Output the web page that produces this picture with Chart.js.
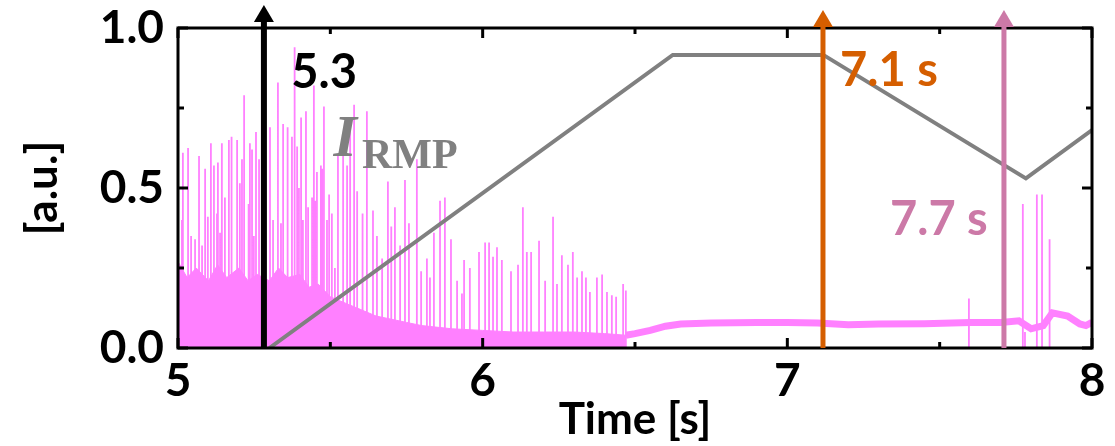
<!DOCTYPE html>
<html lang="en">
<head>
    <meta charset="UTF-8">
    <title>ELM signal and I_RMP</title>
    <script src="https://cdn.jsdelivr.net/npm/chart.js"></script>
    <style>
        body { margin: 0; background: #fff; }
        canvas { display: block; }
    </style>
</head>
<body>
    <canvas id="chart" width="1115" height="446"></canvas>

    <script>
        // Axis ticks
        const xTicks = [5, 6, 7, 8];
        const yTicks = [0, 0.5, 1.0];

        // I_RMP waveform (gray)
        const rmpTime = [5.30, 6.624, 7.118, 7.783, 8.0];
        const rmpValue = [0, 0.916, 0.916, 0.53, 0.681];

        // ELM spikes (time [s], peak [a.u.])
        const spikeTime = [
            5.013, 5.016, 5.033, 5.043, 5.056, 5.069, 5.079, 5.089, 5.098, 5.108,
            5.118, 5.128, 5.131, 5.138, 5.144, 5.154, 5.167, 5.174, 5.177, 5.194,
            5.203, 5.210, 5.217, 5.230, 5.233, 5.236, 5.243, 5.249, 5.256, 5.266,
            5.302, 5.312, 5.328, 5.338, 5.345, 5.358, 5.361, 5.374, 5.381, 5.384,
            5.391, 5.397, 5.404, 5.410, 5.420, 5.427, 5.440, 5.446, 5.450, 5.456,
            5.469, 5.473, 5.479, 5.489, 5.496, 5.505, 5.515, 5.525, 5.542, 5.555,
            5.565, 5.578, 5.588, 5.604, 5.607, 5.620, 5.640, 5.653, 5.670, 5.689,
            5.700, 5.712, 5.729, 5.745, 5.758, 5.784, 5.798, 5.817, 5.827, 5.840,
            5.860, 5.876, 5.896, 5.916, 5.932, 5.939, 5.958, 5.988, 6.008, 6.021,
            6.034, 6.047, 6.063, 6.093, 6.116, 6.132, 6.145, 6.159, 6.185, 6.205,
            6.231, 6.244, 6.260, 6.280, 6.296, 6.310, 6.326, 6.339, 6.352, 6.375,
            6.392, 6.408, 6.424, 6.438, 6.461, 6.470,
            7.596, 7.773, 7.780, 7.819, 7.836, 7.859, 7.862
        ];
        const spikePeak = [
            0.40, 0.61, 0.625, 0.35, 0.34, 0.60, 0.32, 0.56, 0.41, 0.64,
            0.57, 0.42, 0.58, 0.36, 0.64, 0.47, 0.65, 0.66, 0.49, 0.65,
            0.515, 0.59, 0.79, 0.45, 0.40, 0.64, 0.62, 0.35, 0.675, 0.59,
            0.69, 0.40, 0.83, 0.39, 0.70, 0.56, 0.69, 0.66, 0.94, 0.42,
            0.63, 0.50, 0.72, 0.40, 0.74, 0.44, 0.47, 0.82, 0.46, 0.55,
            0.57, 0.56, 0.755, 0.40, 0.48, 0.42, 0.25, 0.60, 0.67, 0.57,
            0.68, 0.76, 0.49, 0.42, 0.38, 0.74, 0.43, 0.35, 0.28, 0.52,
            0.38, 0.44, 0.32, 0.525, 0.39, 0.59, 0.24, 0.28, 0.22, 0.36,
            0.46, 0.47, 0.34, 0.21, 0.17, 0.275, 0.25, 0.30, 0.33, 0.33,
            0.285, 0.315, 0.275, 0.24, 0.26, 0.44, 0.30, 0.30, 0.335, 0.21,
            0.41, 0.20, 0.29, 0.26, 0.30, 0.22, 0.24, 0.22, 0.175, 0.22,
            0.23, 0.175, 0.165, 0.16, 0.20, 0.18,
            0.155, 0.45, 0.05, 0.48, 0.48, 0.34, 0.24
        ];

        // Dense inter-ELM floor (5.0 - 6.47 s)
        const floorTime = [5.00, 5.03, 5.06, 5.10, 5.13, 5.16, 5.20, 5.23, 5.26, 5.30,
                           5.33, 5.36, 5.40, 5.43, 5.46, 5.50, 5.55, 5.60, 5.65, 5.70,
                           5.75, 5.80, 5.90, 6.00, 6.10, 6.20, 6.30, 6.40, 6.47];
        const floorValue = [0.27, 0.22, 0.25, 0.21, 0.26, 0.22, 0.25, 0.21, 0.23, 0.21,
                            0.25, 0.22, 0.23, 0.19, 0.20, 0.16, 0.14, 0.12, 0.10, 0.09,
                            0.08, 0.07, 0.06, 0.055, 0.05, 0.05, 0.05, 0.045, 0.04];

        // ELM-free phase level (6.47 - 8.0 s)
        const bandTime = [6.47, 6.50, 6.55, 6.60, 6.65, 6.75, 6.90, 7.00, 7.10, 7.20,
                          7.30, 7.45, 7.60, 7.70, 7.76, 7.80, 7.84, 7.87, 7.92, 7.96,
                          7.98, 8.00];
        const bandValue = [0.04, 0.045, 0.055, 0.068, 0.075, 0.078, 0.08, 0.08, 0.078, 0.073,
                           0.075, 0.076, 0.08, 0.08, 0.085, 0.06, 0.07, 0.11, 0.10, 0.075,
                           0.07, 0.08];

        // Marked times
        const markTime = [5.282, 7.117, 7.711];
        const markColor = ["#000000", "#d55e00", "#cc79a7"];

        const PINK = "#ff80ff";
        const FONT = "Lato, 'Open Sans', sans-serif";

        const rmpData = rmpTime.map((t, i) => ({ x: t, y: rmpValue[i] }));
        const floorData = floorTime.map((t, i) => ({ x: t, y: floorValue[i] }));
        const bandData = bandTime.map((t, i) => ({ x: t, y: bandValue[i] }));
        const spikeData = [];
        spikeTime.forEach((t, i) => {
            spikeData.push({ x: t, y: 0 }, { x: t, y: spikePeak[i] }, { x: t, y: 0 });
        });

        // box with inward ticks on all sides
        const framePlugin = {
            id: "frame",
            afterDatasetsDraw(chart) {
                const { ctx, chartArea: a, scales } = chart;
                const xs = scales.x, ys = scales.y;
                ctx.save();
                ctx.strokeStyle = "#000";
                ctx.lineWidth = 3;
                ctx.strokeRect(a.left, a.top, a.right - a.left, a.bottom - a.top);

                const xMajor = xTicks, xMinor = xTicks.slice(1).map((v, i) => (v + xTicks[i]) / 2);
                const yMajor = yTicks, yMinor = yTicks.slice(1).map((v, i) => (v + yTicks[i]) / 2);
                const tick = (x1, y1, x2, y2) => { ctx.beginPath(); ctx.moveTo(x1, y1); ctx.lineTo(x2, y2); ctx.stroke(); };
                xMajor.forEach(v => { const p = xs.getPixelForValue(v); tick(p, a.bottom, p, a.bottom - 10); tick(p, a.top, p, a.top + 10); });
                xMinor.forEach(v => { const p = xs.getPixelForValue(v); tick(p, a.bottom, p, a.bottom - 6); tick(p, a.top, p, a.top + 6); });
                yMajor.forEach(v => { const p = ys.getPixelForValue(v); tick(a.left, p, a.left + 10, p); tick(a.right, p, a.right - 10, p); });
                yMinor.forEach(v => { const p = ys.getPixelForValue(v); tick(a.left, p, a.left + 6, p); tick(a.right, p, a.right - 6, p); });
                ctx.restore();
            }
        };

        // vertical arrows and labels
        const markPlugin = {
            id: "marks",
            afterDatasetsDraw(chart) {
                const { ctx, chartArea: a, scales } = chart;
                const xs = scales.x, ys = scales.y;
                ctx.save();
                markTime.forEach((t, i) => {
                    const px = xs.getPixelForValue(t);
                    const tip = i === 0 ? 5 : 10;
                    ctx.strokeStyle = markColor[i];
                    ctx.fillStyle = markColor[i];
                    ctx.lineWidth = i === 0 ? 6 : 5;
                    ctx.beginPath();
                    ctx.moveTo(px, a.bottom);
                    ctx.lineTo(px, tip + 14);
                    ctx.stroke();
                    ctx.beginPath();
                    ctx.moveTo(px, tip);
                    ctx.lineTo(px - 10, tip + 17);
                    ctx.lineTo(px + 10, tip + 17);
                    ctx.closePath();
                    ctx.fill();
                });

                ctx.textBaseline = "alphabetic";
                ctx.textAlign = "left";
                ctx.font = "bold 47px " + FONT;
                ctx.fillStyle = "#000";
                ctx.fillText("5.3", xs.getPixelForValue(5.372), ys.getPixelForValue(0.812));
                ctx.fillStyle = markColor[1];
                ctx.fillText("7.1 s", xs.getPixelForValue(7.173), ys.getPixelForValue(0.82));
                ctx.fillStyle = markColor[2];
                ctx.fillText("7.7 s", xs.getPixelForValue(7.337), ys.getPixelForValue(0.353));

                ctx.fillStyle = "#808080";
                ctx.font = "italic bold 60px 'Liberation Serif', serif";
                ctx.fillText("I", xs.getPixelForValue(5.51), ys.getPixelForValue(0.6));
                ctx.font = "bold 42px 'Liberation Serif', serif";
                ctx.fillText("RMP", xs.getPixelForValue(5.604), ys.getPixelForValue(0.5625));
                ctx.restore();
            }
        };

        new Chart(document.getElementById("chart"), {
            type: "line",
            data: {
                datasets: [
                    { label: "I_RMP", data: rmpData, borderColor: "#808080", borderWidth: 4, pointRadius: 0, tension: 0 },
                    { label: "level", data: bandData, borderColor: PINK, borderWidth: 7, pointRadius: 0, tension: 0 },
                    { label: "ELM", data: spikeData, borderColor: PINK, borderWidth: 1.8, pointRadius: 0, tension: 0 },
                    { label: "floor", data: floorData, borderColor: PINK, backgroundColor: PINK, borderWidth: 1, pointRadius: 0, tension: 0, fill: "origin" }
                ]
            },
            options: {
                responsive: false,
                animation: false,
                devicePixelRatio: 1,
                layout: { padding: { left: 0, top: 28, right: 23, bottom: 0 } },
                plugins: { legend: { display: false }, tooltip: { enabled: false } },
                scales: {
                    x: {
                        type: "linear", min: 5, max: 8,
                        afterFit(scale) { scale.height = 98; scale.paddingLeft = 0; scale.paddingRight = 0; },
                        afterBuildTicks(scale) { scale.ticks = xTicks.map(v => ({ value: v })); },
                        grid: { display: false, drawTicks: false },
                        border: { display: false },
                        ticks: { color: "#000", padding: 6, font: { family: FONT, size: 46, weight: "bold" }, callback: v => String(v) },
                        title: { display: true, text: "Time [s]", color: "#000", padding: 0, font: { family: FONT, size: 44, weight: "bold" } }
                    },
                    y: {
                        min: 0, max: 1,
                        afterFit(scale) { scale.width = 178; scale.paddingTop = 0; scale.paddingBottom = 0; },
                        afterBuildTicks(scale) { scale.ticks = yTicks.map(v => ({ value: v })); },
                        grid: { display: false, drawTicks: false },
                        border: { display: false },
                        ticks: { color: "#000", padding: 14, font: { family: FONT, size: 46, weight: "bold" }, callback: v => v.toFixed(1) },
                        title: { display: true, text: "[a.u.]", color: "#000", padding: { top: 16 }, font: { family: FONT, size: 44, weight: "bold" } }
                    }
                }
            },
            plugins: [framePlugin, markPlugin]
        });
    </script>
</body>
</html>
